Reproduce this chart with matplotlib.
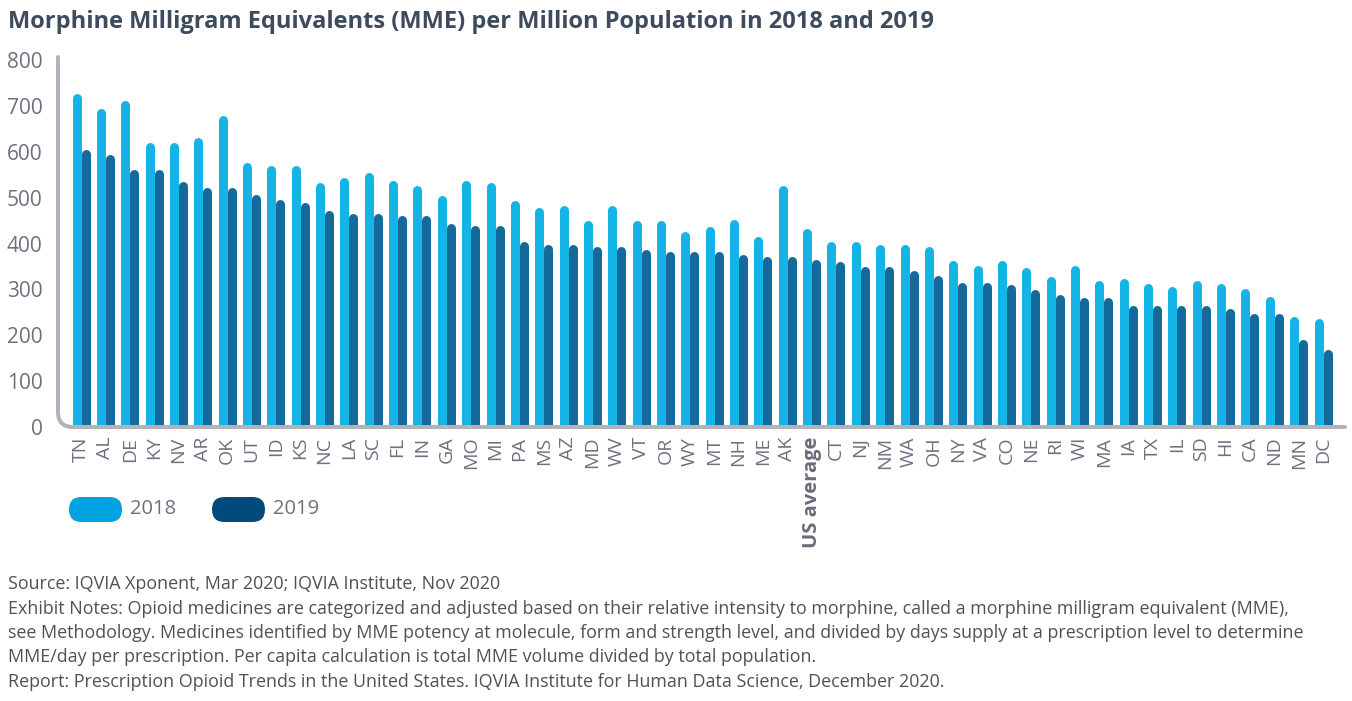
import matplotlib
matplotlib.use("Agg")
import matplotlib.pyplot as plt
from matplotlib.patches import FancyBboxPatch, PathPatch
from matplotlib.path import Path
from matplotlib.transforms import Affine2D

# ---------------- data ----------------
states = ["TN", "AL", "DE", "KY", "NV", "AR", "OK", "UT", "ID", "KS", "NC", "LA", "SC",
          "FL", "IN", "GA", "MO", "MI", "PA", "MS", "AZ", "MD", "WV", "VT", "OR", "WY",
          "MT", "NH", "ME", "AK", "US average", "CT", "NJ", "NM", "WA", "OH", "NY", "VA",
          "CO", "NE", "RI", "WI", "MA", "IA", "TX", "IL", "SD", "HI", "CA", "ND", "MN", "DC"]
mme_2018 = [728, 695, 711, 621, 621, 631, 680, 576, 570, 570, 532, 543, 554,
            537, 526, 505, 538, 532, 494, 478, 483, 450, 483, 450, 450, 426,
            436, 453, 415, 526, 432, 404, 404, 398, 398, 393, 364, 353,
            364, 348, 327, 351, 319, 323, 312, 307, 319, 312, 301, 285, 241, 236]
mme_2019 = [605, 594, 562, 562, 535, 522, 522, 506, 495, 489, 472, 466, 466,
            461, 461, 444, 439, 439, 404, 398, 398, 393, 393, 388, 382, 382,
            382, 377, 372, 372, 366, 360, 349, 349, 342, 331, 316, 316,
            310, 299, 288, 282, 282, 265, 265, 265, 265, 258, 247, 247, 190, 168]
years = ["2018", "2019"]
y_ticks = [0, 100, 200, 300, 400, 500, 600, 700, 800]

title = "Morphine Milligram Equivalents (MME) per Million Population in 2018 and 2019"
notes = [
    "Source: IQVIA Xponent, Mar 2020; IQVIA Institute, Nov 2020",
    "Exhibit Notes: Opioid medicines are categorized and adjusted based on their relative intensity to morphine, called a morphine milligram equivalent (MME),",
    "see Methodology. Medicines identified by MME potency at molecule, form and strength level, and divided by days supply at a prescription level to determine",
    "MME/day per prescription. Per capita calculation is total MME volume divided by total population.",
    "Report: Prescription Opioid Trends in the United States. IQVIA Institute for Human Data Science, December 2020.",
]

# ---------------- style ----------------
W, H, DPI = 1352, 701, 100
C18, C19 = "#14b4e7", "#136a9b"
L18, L19 = "#00a3e0", "#004a7c"
AXIS_C = "#b3b1bc"
TICK_C = "#6e7080"
TITLE_C = "#3d4b5d"
NOTE_C = "#4f5159"

plt.rcParams["font.family"] = ["Open Sans", "DejaVu Sans"]

fig = plt.figure(figsize=(W / DPI, H / DPI), dpi=DPI)
px = Affine2D().scale(1 / W, 1 / H) + fig.transFigure  # pixel coords (origin bottom-left)

def fy(y):  # top-origin pixel -> bottom-origin
    return H - y

ax_left, ax_right, ax_top, ax_bot = 58, 1345, 57, 427
ax = fig.add_axes([ax_left / W, (H - ax_bot) / H, (ax_right - ax_left) / W, (ax_bot - ax_top) / H])
px_per_unit = (ax_bot - 60) / 800.0
ax.set_ylim(0, (ax_bot - ax_top) / px_per_unit)
pitch = (1323 - 81) / 51.0
ax.set_xlim(-(81 - ax_left) / pitch, (ax_right - 81) / pitch)

bar_px = 9.0
lw_pt = bar_px * 72 / DPI
cap_units = (bar_px / 2) / px_per_unit
off = (bar_px / 2) / pitch
xs = list(range(len(states)))
ax.vlines([x - off for x in xs], 0, [v - cap_units for v in mme_2018], colors=C18,
          linewidth=lw_pt, capstyle="round", zorder=2)
ax.vlines([x + off for x in xs], 0, [v - cap_units for v in mme_2019], colors=C19,
          linewidth=lw_pt, capstyle="round", zorder=3)

for s in ax.spines.values():
    s.set_visible(False)
ax.set_yticks(y_ticks)
ax.set_yticklabels([str(t) for t in y_ticks], fontsize=15, color=TICK_C)
ax.tick_params(axis="y", length=0, pad=11)
ax.set_xticks(xs)
ax.set_xticklabels(states, rotation=90, fontsize=14, color=TICK_C, va="top", ha="center")
ax.tick_params(axis="x", length=0, pad=7)
for lab in ax.get_xticklabels():
    if lab.get_text() == "US average":
        lab.set_fontweight("bold")
        lab.set_fontsize(14.5)
        lab.set_color("#6a6c78")

# rounded L-shaped axis frame
r = 15
verts = [(ax_left, fy(ax_top)), (ax_left, fy(ax_bot - r)), (ax_left, fy(ax_bot)),
         (ax_left + r, fy(ax_bot)), (ax_right, fy(ax_bot))]
codes = [Path.MOVETO, Path.LINETO, Path.CURVE3, Path.CURVE3, Path.LINETO]
fig.add_artist(PathPatch(Path(verts, codes), transform=px, facecolor="none",
                         edgecolor=AXIS_C, linewidth=4 * 72 / DPI, capstyle="round", zorder=5))

# title
fig.text(8 / W, fy(22) / H, title, fontsize=17, fontweight="bold", color=TITLE_C,
         family=["Open Sans", "DejaVu Sans"], va="center", ha="left")

# legend
for (x0, col, lab) in [(69, L18, years[0]), (212, L19, years[1])]:
    fig.add_artist(FancyBboxPatch((x0, fy(522)), 53, 25,
                                  boxstyle="round,pad=0,rounding_size=12.5",
                                  transform=px, facecolor=col, edgecolor="none"))
    fig.text((x0 + 61) / W, fy(509) / H, lab, fontsize=14.5, color=TICK_C, va="center", ha="left")

# footnotes
for i, line in enumerate(notes):
    fig.text(8 / W, fy(584 + i * 24.5) / H, line, fontsize=12.9, color=NOTE_C,
             va="center", ha="left")

fig.savefig("out.png", dpi=DPI, facecolor="white")
